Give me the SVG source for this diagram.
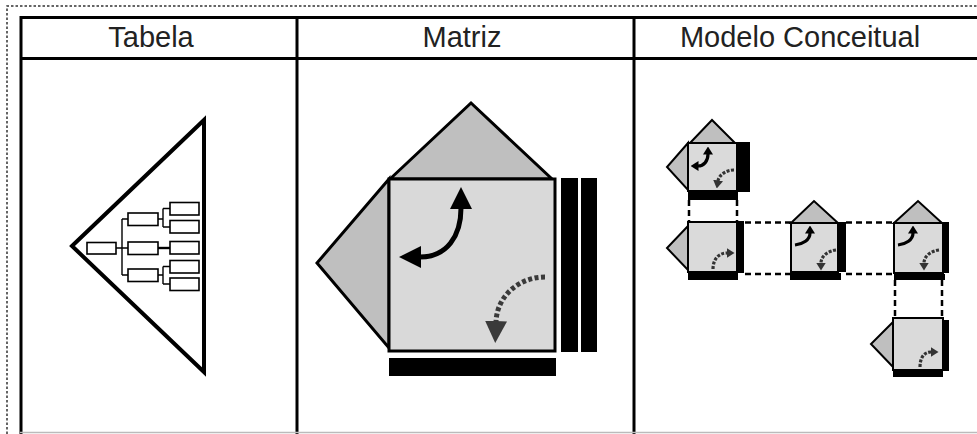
<svg xmlns="http://www.w3.org/2000/svg" width="977" height="434" viewBox="0 0 977 434">
  <style>
    .frame{fill:none;stroke:#000;stroke-width:3}
    .dotborder{fill:none;stroke:#333;stroke-width:1.5;stroke-dasharray:2.5 2}
    .hdr{font-family:"Liberation Sans",Arial,sans-serif;font-size:29px;fill:#222;text-anchor:middle}
    .tri{fill:#fff;stroke:#000;stroke-width:4;stroke-linejoin:miter}
    .tbox{fill:#fff;stroke:#000;stroke-width:1.6}
    .tline{fill:none;stroke:#000;stroke-width:1.4}
    .sq{fill:#d9d9d9;stroke:#000;stroke-width:3}
    .gtri{fill:#bfbfbf;stroke:#000;stroke-width:3;stroke-linejoin:miter}
    .ssq{fill:#dadada;stroke:#000;stroke-width:2}
    .sgtri{fill:#bfbfbf;stroke:#000;stroke-width:2;stroke-linejoin:miter}
    .bar{fill:#000}
    .solid{fill:none;stroke:#000;stroke-width:5}
    .dots{fill:none;stroke:#3a3a3a;stroke-width:5;stroke-dasharray:4 2.5}
    .ssolid{fill:none;stroke:#000;stroke-width:3.2}
    .sdots{fill:none;stroke:#333;stroke-width:3.2;stroke-dasharray:3 1.5}
    .dash{fill:none;stroke:#000;stroke-width:2.5;stroke-dasharray:6 4}
  </style>
  <defs>
    <marker id="bigHead" markerUnits="userSpaceOnUse" viewBox="0 0 22 22" refX="1" refY="11" markerWidth="22" markerHeight="22" orient="auto-start-reverse">
      <path d="M0,0 L22,11 L0,22 z" fill="#000"/>
    </marker>
    <marker id="bigHeadGray" markerUnits="userSpaceOnUse" viewBox="0 0 22 22" refX="1" refY="11" markerWidth="22" markerHeight="22" orient="auto">
      <path d="M0,0 L22,11 L0,22 z" fill="#3a3a3a"/>
    </marker>
    <marker id="smHead" markerUnits="userSpaceOnUse" viewBox="0 0 8 10" refX="0.5" refY="5" markerWidth="8" markerHeight="10" orient="auto-start-reverse">
      <path d="M0,0 L8,5 L0,10 z" fill="#000"/>
    </marker>
    <marker id="smHeadGray" markerUnits="userSpaceOnUse" viewBox="0 0 8 10" refX="0.5" refY="5" markerWidth="8" markerHeight="10" orient="auto">
      <path d="M0,0 L8,5 L0,10 z" fill="#333"/>
    </marker>
  </defs>

  <rect x="0" y="0" width="977" height="434" fill="#fff"/>

  <g id="frame">
    <path class="dotborder" d="M7,434 L7,6 L977,6"/>
    <line x1="20" y1="17.5" x2="977" y2="17.5" class="frame"/>
    <line x1="20" y1="58.5" x2="977" y2="58.5" class="frame"/>
    <line x1="21" y1="16" x2="21" y2="434" class="frame"/>
    <line x1="297" y1="16" x2="297" y2="434" class="frame"/>
    <line x1="634" y1="16" x2="634" y2="434" class="frame"/>
    <line x1="20" y1="432.5" x2="977" y2="432.5" stroke="#bbb" stroke-width="1.5"/>
    <text class="hdr" x="151" y="47">Tabela</text>
    <text class="hdr" x="462" y="47">Matriz</text>
    <text class="hdr" x="800" y="47">Modelo Conceitual</text>
  </g>

  <g id="tabela">
    <polygon class="tri" points="72,246 204,120 204,372"/>
    <g class="tline">
      <path d="M116,248 H122 M122,219 V275 M122,219 H128 M122,248 H128 M122,275 H128"/>
      <path d="M158,219 H163 M163,208.5 V227 M163,208.5 H170 M163,227 H170"/>
      <path d="M158,248 H170" stroke-width="2.4"/>
      <path d="M158,275 H163 M163,266.5 V284 M163,266.5 H170 M163,284 H170"/>
    </g>
    <rect class="tbox" x="87" y="242.5" width="29" height="11.5"/>
    <rect class="tbox" x="128" y="213" width="30" height="12.5"/>
    <rect class="tbox" x="128" y="242" width="30" height="12.5"/>
    <rect class="tbox" x="128" y="269" width="30" height="12.5"/>
    <rect class="tbox" x="170" y="202.5" width="29" height="12.5"/>
    <rect class="tbox" x="170" y="220.5" width="29" height="12.5"/>
    <rect class="tbox" x="170" y="241.5" width="29" height="12.5"/>
    <rect class="tbox" x="170" y="260.5" width="29" height="12.5"/>
    <rect class="tbox" x="170" y="278" width="29" height="12.5"/>
  </g>

  <g id="matriz">
    <polygon class="gtri" points="390,179 471,103 552,179"/>
    <polygon class="gtri" points="389,179 317,263 389,348"/>
    <rect class="sq" x="389" y="179" width="166" height="172"/>
    <rect class="bar" x="561" y="178" width="17" height="174"/>
    <rect class="bar" x="581" y="178" width="16" height="174"/>
    <rect class="bar" x="389" y="358" width="167" height="18"/>
    <path class="solid" d="M461,208 C461,236 447,257 420,257" marker-start="url(#bigHead)" marker-end="url(#bigHead)"/>
    <path class="dots" d="M545,277 C520,277 497,295 496,322" marker-end="url(#bigHeadGray)"/>
  </g>

  <g id="connectors">
    <path class="dash" d="M689,200 V222 M737,200 V222"/>
    <path class="dash" d="M745,222.5 H791 M745,274 H791"/>
    <path class="dash" d="M846,222.5 H894 M846,274 H894"/>
    <path class="dash" d="M895,280 V318 M942,280 V318"/>
  </g>

  <g id="node-a">
    <polygon class="sgtri" points="690,143 712,120 735,143"/>
    <polygon class="sgtri" points="688,143 667,167 688,190"/>
    <rect class="ssq" x="688" y="143" width="49" height="48"/>
    <rect class="bar" x="737" y="142" width="13" height="50"/>
    <rect class="bar" x="688" y="192" width="50" height="8"/>
    <path class="ssolid" d="M708,154 C708,161 704,166 698,166" marker-start="url(#smHead)" marker-end="url(#smHead)"/>
    <path class="sdots" d="M734,170 C726,170 719,175 718,181" marker-end="url(#smHeadGray)"/>
  </g>

  <g id="node-b">
    <polygon class="sgtri" points="688,226 667,248 688,270"/>
    <rect class="ssq" x="688" y="222" width="49" height="50"/>
    <rect class="bar" x="737" y="221" width="7" height="52"/>
    <rect class="bar" x="688" y="273" width="50" height="7"/>
    <path class="sdots" d="M713,269 C713,260 718,253 727,253" marker-end="url(#smHeadGray)"/>
  </g>

  <g id="node-c">
    <polygon class="sgtri" points="791,223 814,201 838,223"/>
    <rect class="ssq" x="791" y="223" width="47" height="49"/>
    <rect class="bar" x="838" y="222" width="8" height="50"/>
    <rect class="bar" x="790" y="273" width="51" height="7"/>
    <path class="ssolid" d="M795,245 C803,244 810,240 810,233" marker-end="url(#smHead)"/>
    <path class="sdots" d="M836,250 C828,251 821,256 821,263" marker-end="url(#smHeadGray)"/>
  </g>

  <g id="node-d">
    <polygon class="sgtri" points="894,223 918,201 942,223"/>
    <rect class="ssq" x="894" y="223" width="49" height="50"/>
    <rect class="bar" x="943" y="222" width="6" height="51"/>
    <rect class="bar" x="894" y="274" width="51" height="6"/>
    <path class="ssolid" d="M898,245 C906,244 913,240 913,233" marker-end="url(#smHead)"/>
    <path class="sdots" d="M939,250 C931,251 924,256 924,263" marker-end="url(#smHeadGray)"/>
  </g>

  <g id="node-e">
    <polygon class="sgtri" points="893,322 871,344 893,367"/>
    <rect class="ssq" x="893" y="318" width="50" height="52"/>
    <rect class="bar" x="943" y="320" width="6" height="51"/>
    <rect class="bar" x="893" y="371" width="50" height="6"/>
    <path class="sdots" d="M920,367 C920,358 924,352 931,352" marker-end="url(#smHeadGray)"/>
  </g>
</svg>
